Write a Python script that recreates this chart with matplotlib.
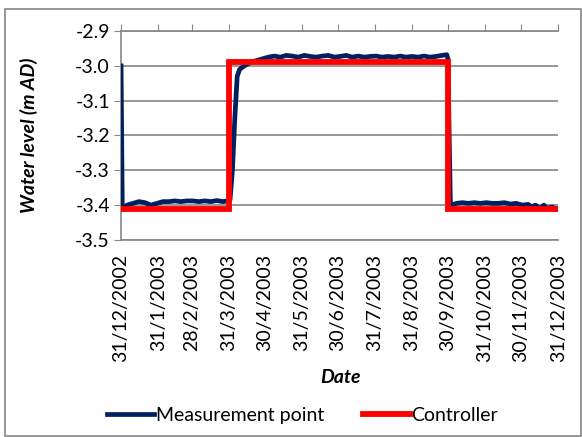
import matplotlib
matplotlib.use("Agg")
import matplotlib.pyplot as plt
from matplotlib.patches import Rectangle
import datetime as dt

plt.rcParams['font.family'] = ['Lato', 'DejaVu Sans']

start = dt.date(2002, 12, 31)

# measurement point: (days after 31/12/2002, water level)
meas_days = [0, 1, 2, 5, 10, 15, 20, 25, 30, 35, 40, 45, 50, 55, 60, 65, 70, 75, 80, 85, 89,
             91, 93, 95, 97, 99, 103, 108, 113, 118, 123, 128, 133, 138, 143, 148, 153, 158,
             163, 168, 173, 178, 183, 188, 193, 198, 203, 208, 213, 218, 223, 228, 233, 238,
             243, 248, 253, 258, 263, 268, 272, 273, 274, 275, 276, 280, 285, 290, 295, 300,
             305, 310, 315, 320, 325, 330, 335, 340, 343, 346, 350, 353, 356, 360, 363, 365]
meas_vals = [-3.00, -3.40, -3.41, -3.40, -3.395, -3.39, -3.393, -3.40, -3.395, -3.39, -3.39,
             -3.388, -3.39, -3.388, -3.388, -3.39, -3.388, -3.39, -3.387, -3.39, -3.388,
             -3.385, -3.30, -3.15, -3.03, -3.01, -3.00, -2.99, -2.985, -2.98, -2.975, -2.972,
             -2.975, -2.97, -2.972, -2.975, -2.97, -2.973, -2.975, -2.972, -2.97, -2.975,
             -2.973, -2.97, -2.975, -2.972, -2.975, -2.973, -2.972, -2.975, -2.973, -2.975,
             -2.972, -2.975, -2.973, -2.975, -2.972, -2.975, -2.973, -2.97, -2.968, -2.98,
             -3.20, -3.39, -3.40, -3.395, -3.393, -3.395, -3.393, -3.395, -3.393, -3.395,
             -3.395, -3.393, -3.397, -3.395, -3.40, -3.398, -3.405, -3.40, -3.41, -3.40,
             -3.41, -3.405, -3.412, -3.41]

# controller set point
ctrl_days = [0, 90, 90, 273, 273, 365]
ctrl_vals = [-3.41, -3.41, -2.99, -2.99, -3.41, -3.41]

tick_dates = [dt.date(2002, 12, 31), dt.date(2003, 1, 31), dt.date(2003, 2, 28),
              dt.date(2003, 3, 31), dt.date(2003, 4, 30), dt.date(2003, 5, 31),
              dt.date(2003, 6, 30), dt.date(2003, 7, 31), dt.date(2003, 8, 31),
              dt.date(2003, 9, 30), dt.date(2003, 10, 31), dt.date(2003, 11, 30),
              dt.date(2003, 12, 31)]
tick_labels = ['31/12/2002', '31/1/2003', '28/2/2003', '31/3/2003', '30/4/2003',
               '31/5/2003', '30/6/2003', '31/7/2003', '31/8/2003', '30/9/2003',
               '31/10/2003', '30/11/2003', '31/12/2003']

meas_x = [start + dt.timedelta(days=d) for d in meas_days]
ctrl_x = [start + dt.timedelta(days=d) for d in ctrl_days]

grey = '#868686'
fs = 14

fig = plt.figure(figsize=(5.82, 4.37), dpi=100)
ax = fig.add_axes([0.208, 0.451, 0.751, 0.478])

ax.plot(meas_x, meas_vals, color='#002060', lw=3.4, label='Measurement point',
        solid_joinstyle='round', zorder=3)
ax.plot(ctrl_x, ctrl_vals, color='#ff0000', lw=4.2, label='Controller',
        solid_joinstyle='miter', zorder=4)

ax.set_xlim(tick_dates[0], tick_dates[-1])
ax.set_ylim(-3.5, -2.9)
ax.set_yticks([-3.5, -3.4, -3.3, -3.2, -3.1, -3.0, -2.9])
ax.set_yticklabels(['-3.5', '-3.4', '-3.3', '-3.2', '-3.1', '-3.0', '-2.9'], fontsize=fs)
ax.yaxis.grid(True, color=grey, lw=1.2)
ax.set_axisbelow(True)

ax.set_xticks(tick_dates)
ax.set_xticklabels(tick_labels, rotation=90, fontsize=fs)
ax.tick_params(axis='x', which='both', bottom=False, top=True, labelbottom=True,
               labeltop=False, direction='out', length=5, color=grey, pad=5)
ax.tick_params(axis='y', direction='out', length=5, color=grey, pad=3)

for s in ['top', 'bottom', 'left']:
    ax.spines[s].set_color(grey)
    ax.spines[s].set_linewidth(1.2)
ax.spines['right'].set_visible(False)

ax.set_ylabel('Water level (m AD)', fontsize=fs, fontweight='bold', fontstyle='italic')
ax.yaxis.set_label_coords(-0.19, 0.5)
fig.text(0.585, 0.137, 'Date', fontsize=fs, fontweight='bold', fontstyle='italic',
         ha='center', va='center')

fig.legend(loc='center', bbox_to_anchor=(0.52, 0.05), ncol=2, frameon=False,
           fontsize=fs, handlelength=2.4, handletextpad=0.1, columnspacing=2.0)

fig.patches.append(Rectangle((0.009, 0.002), 0.99, 0.977, transform=fig.transFigure,
                             fill=False, edgecolor=grey, lw=1.2))

fig.savefig('out.png', dpi=100)
